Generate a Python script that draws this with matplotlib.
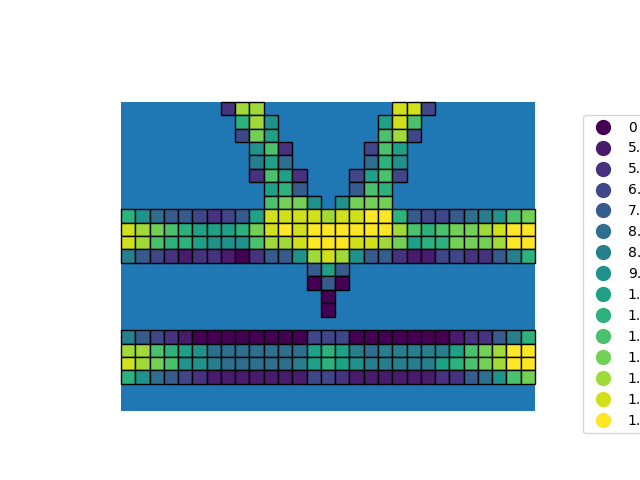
import matplotlib
matplotlib.use("Agg")
import matplotlib.pyplot as plt
from matplotlib.patches import Rectangle
from matplotlib.lines import Line2D
import numpy as np

# cell levels per row (hex digit = legend index, "." = empty)
grid = [
    ".......2cc.........dd3.......",
    "........9c7.......8da........",
    "........3b8.......ac3........",
    ".........7a2.....3a8.........",
    ".........685.....597.........",
    ".........2a82...38a3.........",
    "..........894...4a9..........",
    "..........abb7.7bbb..........",
    "9754432348ddddcddee94334567ab",
    "dcba98889bdedeeeeeeca9abbcdee",
    "dca998777accdeeeddcb899bbbcee",
    "6432122102447cdc7442113322469",
    ".............484.............",
    ".............040.............",
    "..............0..............",
    "..............0..............",
    ".............................",
    "64321000000003330000000122469",
    "cca987555555589865666668abcee",
    "dcba77655555689876666689abcee",
    "975432111111133211111122457ab",
    ".............................",
    ".............................",
]

legend_labels = ["0", "5.00e-05", "5.77e-05", "6.54e-05", "7.31e-05",
                 "8.08e-05", "8.85e-05", "9.62e-05", "1.04e-04", "1.12e-04",
                 "1.19e-04", "1.27e-04", "1.35e-04", "1.42e-04", "1.50e-04"]

n_rows = len(grid)
n_cols = len(grid[0])
colors = plt.cm.viridis(np.linspace(0, 1, len(legend_labels)))

fig = plt.figure(figsize=(6.4, 4.8), dpi=100)
ax = fig.add_axes([121 / 640, 69.3 / 480, 414 / 640, 309 / 480])

# blue domain
ax.add_patch(Rectangle((0, 0), n_cols, n_rows, facecolor="C0", edgecolor="none"))

for r, row in enumerate(grid):
    for c, ch in enumerate(row):
        if ch == ".":
            continue
        level = int(ch, 16)
        ax.add_patch(Rectangle((c, r), 1, 1, facecolor=colors[level],
                               edgecolor="black", linewidth=1, clip_on=False))

ax.set_xlim(0, n_cols)
ax.set_ylim(n_rows, 0)
ax.axis("off")

handles = [Line2D([], [], marker="o", linestyle="none", markersize=10, color=col)
           for col in colors]
fig.legend(handles, legend_labels, loc="upper left",
           bbox_to_anchor=(583.3 / 640, 1 - 115 / 480), borderaxespad=0)

fig.savefig("out.png")
